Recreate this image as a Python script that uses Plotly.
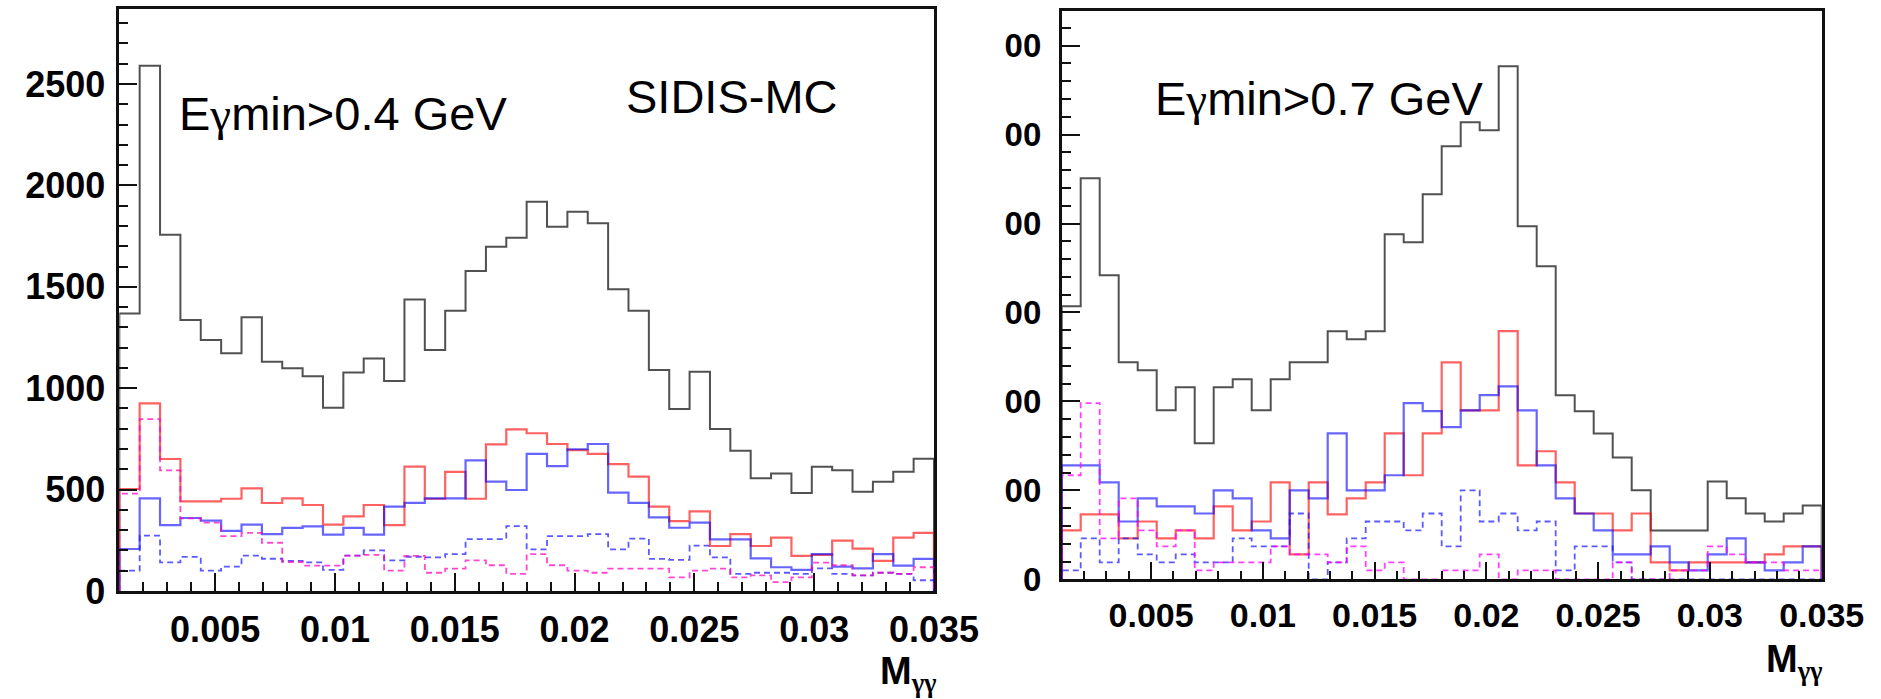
import numpy as np
import plotly.graph_objects as go

# ---------------- data ----------------
X_MIN = 0.001
X_MAX = 0.035
N_BINS = 40

LEFT_BLACK = [1369, 2590, 1757, 1336, 1238, 1172, 1350, 1131, 1098, 1059, 904, 1077, 1147, 1036, 1438, 1188,
              1382, 1578, 1698, 1742, 1920, 1796, 1870, 1813, 1488, 1382, 1090, 897, 1081, 799, 692, 556, 580,
              483, 613, 595, 490, 539, 588, 652]
LEFT_RED = [503, 925, 651, 442, 442, 455, 506, 434, 457, 424, 327, 368, 424, 325, 613, 455, 587, 455, 723, 797,
            778, 725, 695, 676, 626, 564, 416, 345, 393, 222, 280, 222, 263, 173, 178, 248, 209, 149, 263, 287]
LEFT_BLUE = [207, 457, 325, 360, 347, 296, 327, 280, 311, 319, 278, 311, 278, 416, 435, 457, 457, 644, 539, 498,
             676, 616, 699, 725, 485, 435, 363, 312, 337, 255, 255, 161, 117, 104, 182, 120, 112, 182, 125, 158]
LEFT_BLUE_DASH = [100, 273, 141, 168, 100, 120, 174, 159, 149, 141, 104, 174, 200, 151, 169, 166, 182, 256, 256,
                  320, 205, 271, 271, 280, 205, 258, 158, 153, 224, 166, 84, 90, 90, 84, 112, 84, 77, 90, 84, 53]
LEFT_MAGENTA = [480, 848, 595, 358, 337, 271, 287, 238, 143, 125, 125, 174, 178, 100, 173, 90, 110, 151, 127, 84,
                182, 127, 100, 90, 110, 110, 110, 67, 100, 110, 67, 77, 44, 67, 140, 127, 77, 90, 84, 117]

RIGHT_BLACK = [307, 451, 342, 244, 235, 190, 216, 153, 216, 225, 190, 225, 244, 244, 279, 270, 279, 388, 379, 433,
               487, 514, 505, 577, 397, 352, 207, 189, 164, 137, 100, 55, 55, 55, 110, 91, 74, 65, 74, 83]
RIGHT_RED = [55, 73, 73, 46, 65, 46, 55, 46, 82, 55, 65, 109, 28, 109, 73, 91, 109, 164, 117, 164,
             244, 190, 190, 279, 128, 144, 109, 74, 74, 55, 74, 19, 10, 19, 19, 19, 19, 28, 37, 37]
RIGHT_BLUE = [128, 128, 109, 65, 91, 82, 82, 74, 100, 91, 55, 46, 100, 91, 164, 100, 100, 117, 198, 189,
              171, 190, 207, 217, 190, 128, 91, 74, 55, 28, 28, 37, 19, 10, 28, 46, 19, 10, 19, 37]
RIGHT_BLUE_DASH = [10, 46, 19, 46, 28, 19, 28, 19, 19, 46, 37, 37, 74, 0, 19, 46, 65, 65, 55, 74,
                   37, 100, 65, 74, 55, 65, 10, 37, 37, 19, 0, 0, 0, 0, 0, 0, 0, 0, 0, 0]
RIGHT_MAGENTA = [117, 198, 46, 91, 55, 37, 55, 10, 19, 19, 19, 37, 28, 28, 19, 37, 10, 19, 0, 0,
                 10, 10, 28, 0, 10, 10, 0, 0, 0, 19, 0, 0, 10, 10, 37, 28, 19, 19, 10, 10]

X_TICK_VALUES = [0.005, 0.01, 0.015, 0.02, 0.025, 0.03, 0.035]
X_TICK_LABELS = ["0.005", "0.01", "0.015", "0.02", "0.025", "0.03", "0.035"]
LEFT_Y_TICK_VALUES = [0, 500, 1000, 1500, 2000, 2500]
LEFT_Y_TICK_LABELS = ["0", "500", "1000", "1500", "2000", "2500"]
RIGHT_Y_TICK_VALUES = [0, 100, 200, 300, 400, 500, 600]
RIGHT_Y_TICK_LABELS = ["0", "00", "00", "00", "00", "00", "00"]

LEFT_LABEL = "Eγmin>0.4 GeV"
RIGHT_LABEL = "Eγmin>0.7 GeV"
MC_LABEL = "SIDIS-MC"
X_TITLE = "M<sub>γγ</sub>"

# ---------------- layout helpers ----------------
W, H = 1881, 699


def px(x):
    return x / W


def py(y):
    return 1 - y / H


edges = np.linspace(X_MIN, X_MAX, N_BINS + 1)


def step_trace(vals, color, width, dash, xa, ya):
    xs = np.concatenate([[edges[0]], edges, [edges[-1]]])
    ys = np.concatenate([[0], vals, [vals[-1]], [0]])
    return go.Scatter(x=xs, y=ys, mode="lines", line=dict(color=color, width=width, dash=dash, shape="hv"),
                      xaxis=xa, yaxis=ya, showlegend=False, hoverinfo="skip")


fig = go.Figure()

BLACK = "rgba(50,50,50,0.85)"
RED = "rgba(255,0,0,0.62)"
BLUE = "rgba(0,0,255,0.6)"
BLUE_D = "rgba(20,20,255,0.7)"
MAG_L = "rgba(255,0,190,0.72)"
MAG_R = "rgba(255,0,255,0.75)"

for vals, col, w, d in [(LEFT_BLACK, BLACK, 2, "solid"), (LEFT_RED, RED, 2.2, "solid"),
                        (LEFT_BLUE, BLUE, 2.2, "solid"), (LEFT_BLUE_DASH, BLUE_D, 1.8, "6px,4px"),
                        (LEFT_MAGENTA, MAG_L, 1.8, "6px,4px")]:
    fig.add_trace(step_trace(vals, col, w, d, "x", "y"))

for vals, col, w, d in [(RIGHT_BLACK, BLACK, 2, "solid"), (RIGHT_RED, RED, 2.2, "solid"),
                        (RIGHT_BLUE, BLUE, 2.2, "solid"), (RIGHT_BLUE_DASH, BLUE_D, 1.8, "6px,4px"),
                        (RIGHT_MAGENTA, MAG_R, 1.8, "6px,4px")]:
    fig.add_trace(step_trace(vals, col, w, d, "x2", "y2"))

FONT = "Liberation Sans, Arial, Helvetica, sans-serif"
GAMMA = "<span style='font-family:Liberation Serif, Times New Roman, serif'>γ</span>"


def xaxis(domain, size, anchor, standoff):
    return dict(domain=domain, range=[X_MIN, X_MAX], anchor=anchor, showgrid=False, zeroline=False,
                automargin=False,
                showline=True, linecolor="#111", linewidth=2.6, mirror=True,
                ticks="inside", ticklen=18, tickwidth=1.8, tickcolor="#111",
                tickmode="array", tickvals=X_TICK_VALUES, ticktext=X_TICK_LABELS,
                tickfont=dict(family=FONT, size=size, color="black", weight="bold"),
                ticklabelstandoff=standoff,
                minor=dict(ticks="inside", ticklen=9, tickwidth=1.5, tickcolor="#111",
                           tickmode="linear", tick0=0, dtick=0.001, showgrid=False))


def yaxis(domain, rng, vals, text, minor_dt, size, anchor, standoff):
    return dict(domain=domain, range=rng, anchor=anchor, showgrid=False, zeroline=False,
                automargin=False,
                showline=True, linecolor="#111", linewidth=2.6, mirror=True,
                ticks="inside", ticklen=18, tickwidth=1.8, tickcolor="#111",
                tickmode="array", tickvals=vals, ticktext=text,
                tickfont=dict(family=FONT, size=size, color="black", weight="bold"),
                ticklabelstandoff=standoff,
                minor=dict(ticks="inside", ticklen=9, tickwidth=1.5, tickcolor="#111",
                           tickmode="linear", tick0=0, dtick=minor_dt, showgrid=False))


fig.update_layout(
    width=W, height=H, margin=dict(l=0, r=0, t=0, b=0, pad=0), autosize=False,
    paper_bgcolor="white", plot_bgcolor="white", showlegend=False,
    xaxis=xaxis([px(119.3), px(934)], 36, "y", 5),
    yaxis=yaxis([py(591), py(9)], [0, 2870], LEFT_Y_TICK_VALUES, LEFT_Y_TICK_LABELS, 100, 36, "x", 4),
    xaxis2=xaxis([px(1061.7), px(1821.7)], 34, "y2", 4),
    yaxis2=yaxis([py(579.3), py(11)], [0, 639], RIGHT_Y_TICK_VALUES, RIGHT_Y_TICK_LABELS, 20, 33, "x2", 11),
)

ann = [
    dict(text=LEFT_LABEL.replace("γ", GAMMA), x=px(177), y=py(113), size=47, weight="normal", xanchor="left"),
    dict(text=MC_LABEL, x=px(624), y=py(96), size=47, weight="normal", xanchor="left"),
    dict(text=RIGHT_LABEL.replace("γ", GAMMA), x=px(1153), y=py(98), size=47, weight="normal", xanchor="left"),
    dict(text=X_TITLE.replace("γ", GAMMA), x=px(939), y=py(674), size=38, weight="bold", xanchor="right"),
    dict(text=X_TITLE.replace("γ", GAMMA), x=px(1825), y=py(662), size=38, weight="bold", xanchor="right"),
]
for a in ann:
    fig.add_annotation(text=a["text"], x=a["x"], y=a["y"], xref="paper", yref="paper",
                       xanchor=a["xanchor"], yanchor="middle", showarrow=False,
                       font=dict(family=FONT, size=a["size"], color="black", weight=a["weight"]))

fig.write_html("out.html")
